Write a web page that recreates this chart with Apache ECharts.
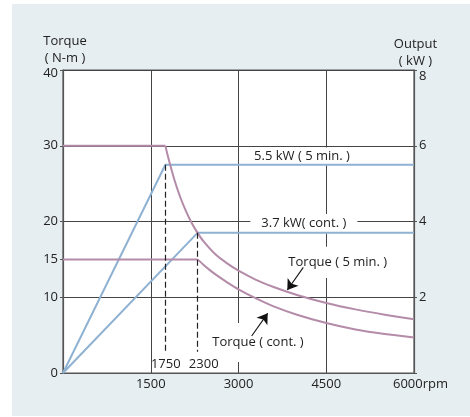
<!DOCTYPE html>
<html><head><meta charset="utf-8">
<script src="https://cdn.jsdelivr.net/npm/echarts@6/dist/echarts.min.js"></script>
<style>
html,body{margin:0;padding:0;background:#fff;}
#panel{position:absolute;left:12px;top:4px;width:458px;height:412px;background:#e7eef2;}
#chart{position:absolute;left:0;top:0;width:470px;height:417px;}
</style></head><body>
<div id="panel"></div><div id="chart"></div>
<script>
// ---- data ----
const rpmTicks = [1500, 3000, 4500, 6000];
const torqueTicks = [0, 10, 15, 20, 30, 40];
const outputTicks = [0, 2, 4, 6, 8];

const torque5FlatRpm = [0, 1750];
const torque5FlatVal = [30, 30];
const torque5CurveRpm = [1750, 1800, 1900, 2000, 2100, 2200, 2300, 2400, 2600, 2800, 3000, 3300, 3600, 4000, 4500, 5000, 5500, 6000];
const torque5CurveVal = [30, 28.4, 25.6, 23.3, 21.4, 19.8, 18.5, 17.4, 15.7, 14.5, 13.5, 12.3, 11.35, 10.3, 9.25, 8.4, 7.7, 7.1];

const torqueContFlatRpm = [0, 2300];
const torqueContFlatVal = [15, 15];
const torqueContCurveRpm = [2300, 2400, 2500, 2600, 2800, 3000, 3300, 3600, 4000, 4500, 5000, 5500, 6000];
const torqueContCurveVal = [15, 14.3, 13.65, 13.05, 12.0, 11.05, 9.85, 8.8, 7.7, 6.6, 5.75, 5.15, 4.7];

const output5Rpm = [0, 1750, 6000];
const output5Kw = [0, 5.5, 5.5];
const outputContRpm = [0, 2300, 6000];
const outputContKw = [0, 3.7, 3.7];

const dashRpm = [1750, 2300];
const dashTopTorque = [27.5, 18.5];
const dashBottomTorque = 2.8;

const annotationTexts = ['5.5 kW ( 5 min. )', '3.7 kW( cont. )', 'Torque ( 5 min. )', 'Torque ( cont. )'];
const annotationRpm = [4085, 4117, 4697, 3333];
const annotationTorque = [28.61, 19.70, 14.6, 4.03];

const speedLabels = ['1750', '2300'];
const speedLabelRpm = [1757, 2405];
const speedLabelTorque = 1.15;

const arrowFrom = [[4108, 13.95], [3225, 4.88]];
const arrowTo = [[3835, 10.96], [3499, 7.88]];

// ---- styles ----
const PURPLE = '#b48ba8';
const BLUE = '#8fb1d2';
const TXT = '#222';
const GRID = '#444';
const FONT = 'Open Sans';

const pairs = (xs, ys) => xs.map((x, i) => [x, ys[i]]);

function lineSeries(name, data, color, yAxisIndex, extra) {
  return Object.assign({
    name, type: 'line', data, yAxisIndex, showSymbol: false, symbol: 'none',
    lineStyle: { color, width: 2 }, z: 4, silent: true, animation: false
  }, extra || {});
}

const annotationPadding = [
  [2.2, 4, 2.2, 4],
  [4.5, 11, 2, 11],
  [2.5, 4, 15.8, 4],
  [16.5, 5, 9.5, 5]
];

const chart = echarts.init(document.getElementById('chart'), null, { renderer: 'canvas' });
chart.setOption({
  animation: false,
  backgroundColor: 'transparent',
  textStyle: { fontFamily: FONT },
  grid: { left: 63, top: 70, right: 56, bottom: 44, show: true, backgroundColor: '#fff', borderColor: '#555', borderWidth: 1.2 },
  xAxis: {
    type: 'value', min: 0, max: 6000, interval: 1500,
    axisLine: { show: true, lineStyle: { color: '#555', width: 1.2 } },
    axisTick: { show: false },
    splitLine: { show: true, lineStyle: { color: GRID, width: 1 } },
    axisLabel: {
      customValues: rpmTicks, margin: 5, color: TXT, fontSize: 13, fontFamily: FONT,
      formatter: v => v === 6000 ? '{n|6000}{u|rpm}' : (v === 0 ? '' : String(v)),
      rich: {
        n: { padding: [0, 0, 0, 13], fontSize: 13, color: TXT, fontFamily: FONT },
        u: { fontSize: 13, color: TXT, fontFamily: FONT }
      }
    }
  },
  yAxis: [
    {
      type: 'value', min: 0, max: 40, interval: 5, position: 'left',
      name: 'Torque\n( N-m )', nameLocation: 'end', nameGap: -4,
      nameTextStyle: { color: TXT, fontSize: 13, fontFamily: FONT, align: 'center', lineHeight: 17, padding: [0, 0, 0, 4] },
      axisLine: { show: true, lineStyle: { color: '#555', width: 1.2 } },
      axisTick: { show: true, customValues: torqueTicks, length: 3, inside: false, lineStyle: { color: '#555' } },
      splitLine: { show: false },
      axisLabel: {
        customValues: torqueTicks, margin: 5, color: TXT, fontSize: 13, fontFamily: FONT,
        formatter: v => torqueTicks.indexOf(v) < 0 ? '' : (v === 40 ? '{t|40}' : String(v)),
        rich: { t: { padding: [6, 0, 0, 0], fontSize: 13, color: TXT, fontFamily: FONT } }
      }
    },
    {
      type: 'value', min: 0, max: 8, interval: 2, position: 'right',
      name: 'Output\n( kW )', nameLocation: 'end', nameGap: -4,
      nameTextStyle: { color: TXT, fontSize: 13, fontFamily: FONT, align: 'center', lineHeight: 17, padding: [0, 0, 0, 3] },
      axisLine: { show: true, lineStyle: { color: '#555', width: 1.2 } },
      axisTick: { show: true, length: 3, inside: false, lineStyle: { color: '#555' } },
      splitLine: { show: true, lineStyle: { color: GRID, width: 1 } },
      axisLabel: {
        customValues: outputTicks.slice(1), margin: 5, color: TXT, fontSize: 13, fontFamily: FONT,
        formatter: v => v === 0 ? '' : (v === 8 ? '{t|8}' : String(v)),
        rich: { t: { padding: [13, 0, 0, 0], fontSize: 13, color: TXT, fontFamily: FONT } }
      }
    }
  ],
  series: [
    lineSeries('Output 5 min', pairs(output5Rpm, output5Kw), BLUE, 1),
    lineSeries('Output cont', pairs(outputContRpm, outputContKw), BLUE, 1),
    lineSeries('Torque 5 min flat', pairs(torque5FlatRpm, torque5FlatVal), PURPLE, 0, {
      markLine: {
        silent: true, z: 5, symbol: ['none', 'none'], animation: false,
        label: { show: false },
        lineStyle: { color: '#222', width: 1.2, type: [6, 3] },
        emphasis: { disabled: true },
        data: dashRpm.map((r, i) => [{ coord: [r, dashTopTorque[i]] }, { coord: [r, dashBottomTorque] }])
      }
    }),
    lineSeries('Torque 5 min', pairs(torque5CurveRpm, torque5CurveVal), PURPLE, 0, { smooth: 0.25 }),
    lineSeries('Torque cont flat', pairs(torqueContFlatRpm, torqueContFlatVal), PURPLE, 0, {
      markPoint: {
        silent: true, z: 3, symbol: 'rect', symbolSize: 1, animation: false,
        itemStyle: { color: 'rgba(0,0,0,0)' },
        data: annotationTexts.map((t, i) => ({
          coord: [annotationRpm[i], annotationTorque[i]], value: t,
          label: {
            show: true, position: 'inside', formatter: t, color: TXT, fontSize: 13, fontFamily: FONT,
            lineHeight: 13, backgroundColor: '#fff', padding: annotationPadding[i]
          }
        })).concat(speedLabels.map((t, i) => ({
          coord: [speedLabelRpm[i], speedLabelTorque], value: t,
          label: { show: true, position: 'inside', formatter: t, color: TXT, fontSize: 13, fontFamily: FONT }
        })))
      }
    }),
    lineSeries('Torque cont', pairs(torqueContCurveRpm, torqueContCurveVal), PURPLE, 0, {
      smooth: 0.25,
      markLine: {
        silent: true, z: 6, symbol: ['none', 'arrow'], symbolSize: 10, animation: false,
        label: { show: false },
        lineStyle: { color: '#111', width: 1.1, type: 'solid' },
        itemStyle: { color: '#111' },
        emphasis: { disabled: true },
        data: arrowFrom.map((f, i) => [{ coord: f }, { coord: arrowTo[i] }])
      }
    })
  ]
});
</script></body></html>
